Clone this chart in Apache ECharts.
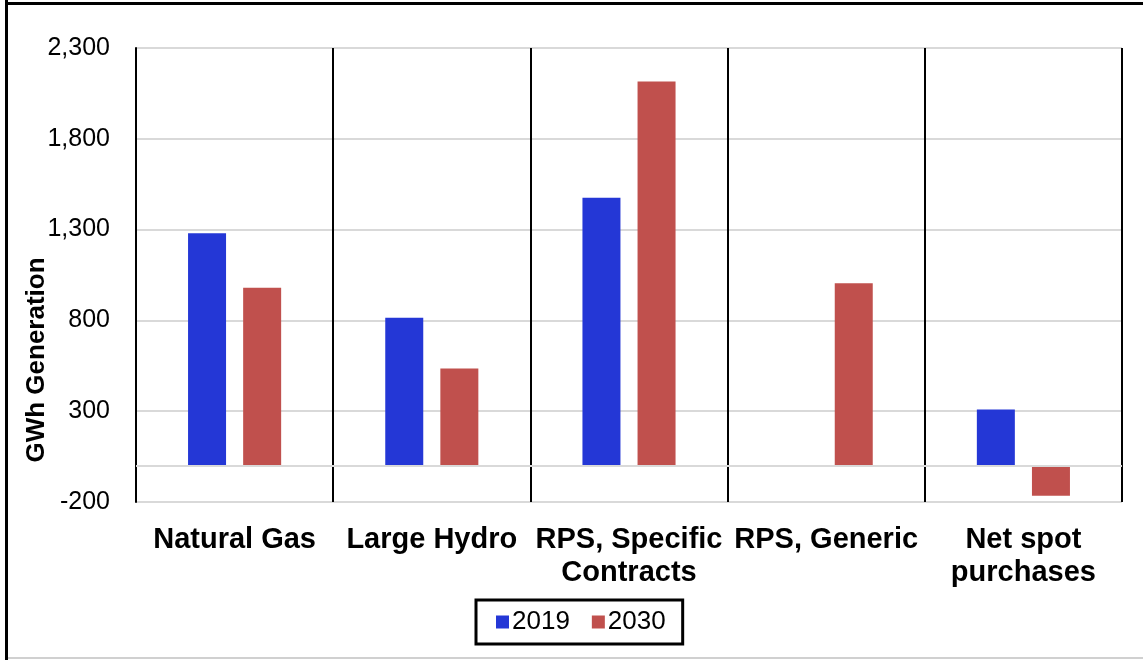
<!DOCTYPE html>
<html>
<head>
<meta charset="utf-8">
<script src="https://cdn.jsdelivr.net/npm/echarts@6/dist/echarts.min.js"></script>
<style>
  html, body { margin: 0; padding: 0; background: #fff; }
  #chart { width: 1143px; height: 660px; }
</style>
</head>
<body>
<div id="chart"></div>
<script>
const categories = ['Natural Gas', 'Large Hydro', 'RPS, Specific\nContracts', 'RPS, Generic', 'Net spot\npurchases']
const values2019 = [1280, 815, 1475, 0, 310]
const values2030 = [980, 535, 2115, 1005, -165]
const yTicks = { min: -200, max: 2300, interval: 500 }

const chart = echarts.init(document.getElementById('chart'))

const option = {
  animation: false,
  textStyle: { fontFamily: '"Liberation Sans", Arial, sans-serif' },
  grid: { left: 136, right: 21, top: 48, bottom: 158 },
  legend: {
    left: 476,
    top: 600,
    itemWidth: 13,
    itemHeight: 13,
    itemGap: 22,
    padding: [9, 17, 9, 20],
    borderColor: '#000',
    borderWidth: 3,
    textStyle: { fontSize: 26, color: '#000', padding: [0, 0, 0, -2] },
    data: [
      { name: '2019', icon: 'rect' },
      { name: '2030', icon: 'rect' }
    ]
  },
  xAxis: {
    type: 'category',
    data: categories,
    axisLine: { show: false },
    axisTick: { show: false },
    splitLine: { show: true, lineStyle: { color: '#000', width: 2 } },
    axisLabel: {
      interval: 0,
      margin: 21,
      fontSize: 29,
      fontWeight: 'bold',
      color: '#000',
      lineHeight: 33
    }
  },
  yAxis: {
    type: 'value',
    min: yTicks.min,
    max: yTicks.max,
    interval: yTicks.interval,
    name: 'GWh Generation',
    nameLocation: 'middle',
    nameRotate: 90,
    nameGap: 86,
    nameMoveOverlap: false,
    nameTextStyle: { fontSize: 26, fontWeight: 'bold', color: '#000', padding: [0, 170, 0, 0] },
    axisLine: { show: true, lineStyle: { color: '#000', width: 2 } },
    axisTick: { show: false },
    splitLine: { lineStyle: { color: '#d9d9d9', width: 2 } },
    axisLabel: {
      margin: 26,
      fontSize: 25,
      color: '#000',
      formatter: v => v.toLocaleString('en-US')
    }
  },
  series: [
    {
      name: '2019',
      type: 'bar',
      data: values2019,
      barWidth: 38,
      barGap: '45%',
      itemStyle: { color: '#2437d6' },
      markLine: {
        silent: true,
        symbol: 'none',
        label: { show: false },
        lineStyle: { color: '#d9d9d9', width: 2, type: 'solid' },
        data: [{ yAxis: 0 }]
      }
    },
    {
      name: '2030',
      type: 'bar',
      data: values2030,
      barWidth: 38,
      itemStyle: { color: '#c0504d' }
    }
  ],
  graphic: [
    { type: 'rect', shape: { x: 5, y: 0, width: 3, height: 660 }, style: { fill: '#000' } },
    { type: 'rect', shape: { x: 5, y: 2, width: 1138, height: 3 }, style: { fill: '#000' } },
    { type: 'rect', shape: { x: 8, y: 657, width: 1135, height: 2 }, style: { fill: '#d0d0d0' } }
  ]
}

chart.setOption(option)
</script>
</body>
</html>
